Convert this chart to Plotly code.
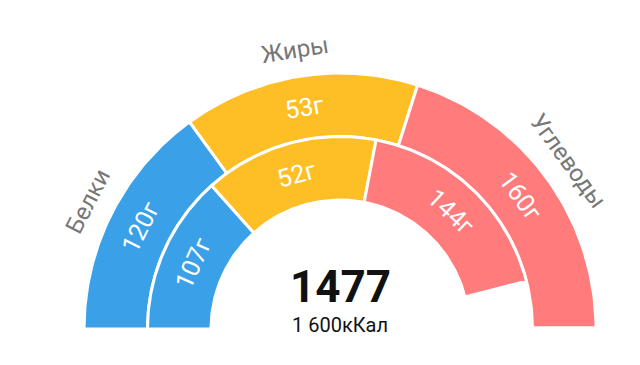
import numpy as np
import plotly.graph_objects as go

# ---- data ----
categories = ["Белки", "Жиры", "Углеводы"]
target_g = [120, 53, 160]
eaten_g = [107, 52, 144]
kcal_per_g = [4, 9, 4]
colors = ["#3AA1E8", "#FEBF26", "#FF7B7C"]
total_kcal_label = "1477"
goal_label = "1 600кКал"
goal_kcal = 1600

# ---- geometry (pixel-like units) ----
R_OUT = (192.5, 256.0)
R_IN = (129.0, 192.5)
R_CAT = 283

fig = go.Figure()
annotations = []


def sector(a0, a1, r0, r1):
    t = np.radians(np.linspace(a0, a1, 80))
    xs = np.concatenate([r1 * np.cos(t), r0 * np.cos(t[::-1])])
    ys = np.concatenate([r1 * np.sin(t), r0 * np.sin(t[::-1])])
    xs = np.append(xs, xs[0])
    ys = np.append(ys, ys[0])
    return xs, ys


def ring(values, radii, with_cat):
    start = 180.0
    for i, (g, k) in enumerate(zip(values, kcal_per_g)):
        span = g * k / goal_kcal * 180.0
        a0, a1 = start, start - span
        xs, ys = sector(a0, a1, radii[0], radii[1])
        fig.add_trace(go.Scatter(x=xs, y=ys, mode="lines", fill="toself",
                                 fillcolor=colors[i],
                                 line=dict(color="white", width=3),
                                 hoverinfo="skip", showlegend=False))
        mid = (a0 + a1) / 2
        rm = (radii[0] + radii[1]) / 2
        annotations.append(dict(x=rm * np.cos(np.radians(mid)),
                                y=rm * np.sin(np.radians(mid)),
                                text=f"{g}г", showarrow=False,
                                textangle=90 - mid,
                                font=dict(color="white", size=25, family="Roboto")))
        if with_cat:
            annotations.append(dict(x=R_CAT * np.cos(np.radians(mid)),
                                    y=R_CAT * np.sin(np.radians(mid)),
                                    text=categories[i], showarrow=False,
                                    textangle=90 - mid,
                                    font=dict(color="#777777", size=24, family="Roboto")))
        start = a1


ring(target_g, R_OUT, True)
ring(eaten_g, R_IN, False)

annotations.append(dict(x=0, y=42, text=f"<b>{total_kcal_label}</b>", showarrow=False,
                        font=dict(color="#111111", size=44, family="Roboto")))
annotations.append(dict(x=0, y=4, text=goal_label, showarrow=False,
                        font=dict(color="#111111", size=20, family="Roboto")))

fig.update_layout(
    width=640, height=365,
    margin=dict(l=0, r=0, t=0, b=0),
    paper_bgcolor="white", plot_bgcolor="white",
    xaxis=dict(range=[-332, 308], visible=False, fixedrange=True),
    yaxis=dict(range=[-44, 321], visible=False, fixedrange=True),
    annotations=annotations,
    showlegend=False,
)

fig.write_html("out.html")
